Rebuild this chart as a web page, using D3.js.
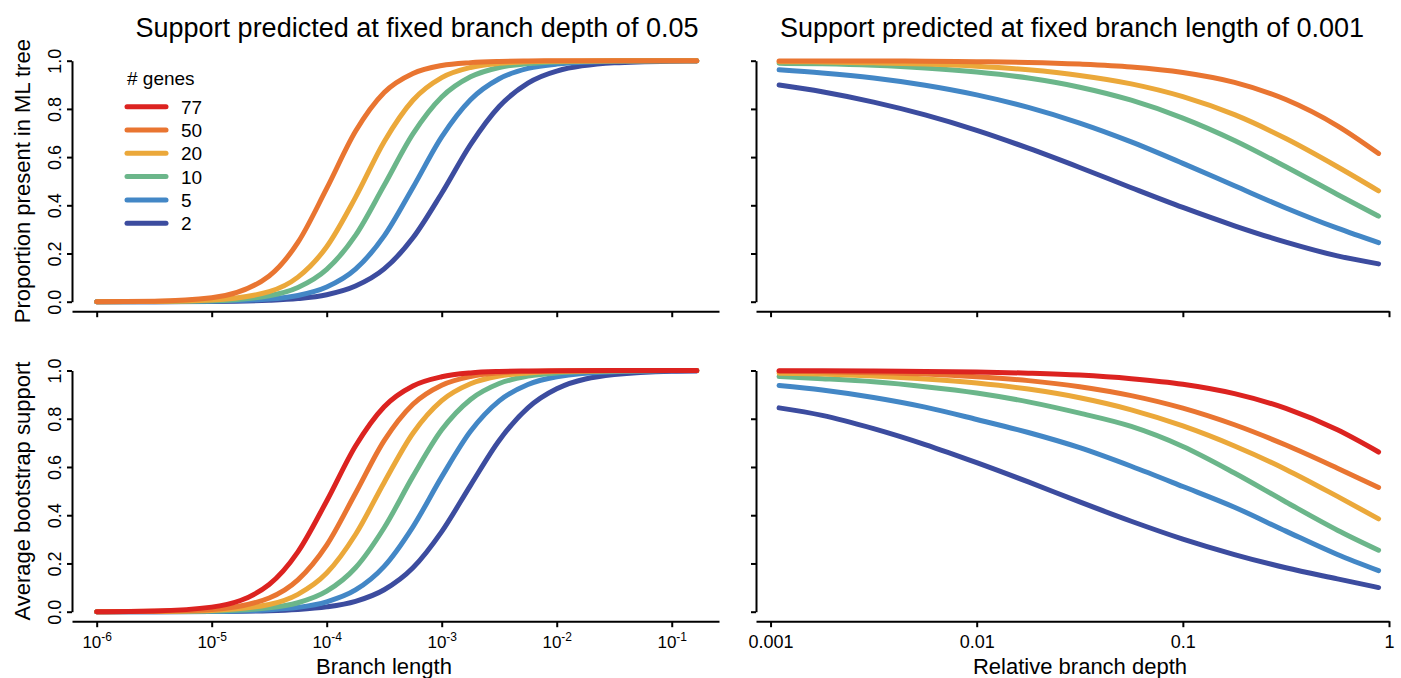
<!DOCTYPE html>
<html>
<head>
<meta charset="utf-8">
<script src="https://cdn.jsdelivr.net/npm/d3@7"></script>
<style>
  body { margin: 0; background: #fff; }
  text { font-family: "Liberation Sans", Arial, Helvetica, sans-serif; fill: #000; }
</style>
</head>
<body>
<svg id="chart" width="1401" height="678"></svg>
<script>
// number of genes and their colours (77 is only drawn in the bootstrap panels)
var genes = [77, 50, 20, 10, 5, 2];
var geneColors = ["#dc2320", "#e97531", "#eba83a", "#6bb68a", "#4387c6", "#3c4c9f"];

// left panels: branch length (log scale), fixed branch depth 0.05
var branchLength = [1e-6, 3.16e-6, 1e-5, 3.16e-5, 5.62e-5, 1e-4, 1.78e-4, 3.16e-4, 5.62e-4,
  1e-3, 1.78e-3, 3.16e-3, 5.62e-3, 1e-2, 3.16e-2, 1e-1, 0.165];

var mlByLength = {
  50: [0.000, 0.002, 0.016, 0.107, 0.246, 0.470, 0.707, 0.868, 0.947, 0.980, 0.992, 0.997, 0.999, 1.0, 1.0, 1.0, 1.0],
  20: [0.000, 0.001, 0.007, 0.042, 0.102, 0.228, 0.433, 0.664, 0.836, 0.930, 0.972, 0.989, 0.996, 0.998, 1.0, 1.0, 1.0],
  10: [0.000, 0.001, 0.004, 0.025, 0.059, 0.134, 0.275, 0.483, 0.696, 0.849, 0.933, 0.972, 0.988, 0.995, 0.999, 1.0, 1.0],
  5:  [0.000, 0.000, 0.002, 0.011, 0.026, 0.061, 0.135, 0.273, 0.474, 0.684, 0.838, 0.925, 0.968, 0.986, 0.998, 1.0, 1.0],
  2:  [0.000, 0.000, 0.001, 0.006, 0.013, 0.029, 0.065, 0.136, 0.265, 0.450, 0.652, 0.810, 0.907, 0.957, 0.991, 0.998, 0.999]
};

var bootByLength = {
  77: [0.000, 0.003, 0.019, 0.113, 0.248, 0.459, 0.687, 0.850, 0.936, 0.974, 0.990, 0.996, 0.998, 0.999, 1.0, 1.0, 1.0],
  50: [0.000, 0.002, 0.009, 0.057, 0.132, 0.276, 0.491, 0.709, 0.860, 0.939, 0.975, 0.990, 0.996, 0.998, 1.0, 1.0, 1.0],
  20: [0.000, 0.001, 0.005, 0.030, 0.072, 0.160, 0.320, 0.536, 0.740, 0.875, 0.945, 0.977, 0.990, 0.996, 0.999, 1.0, 1.0],
  10: [0.000, 0.001, 0.003, 0.016, 0.037, 0.085, 0.182, 0.348, 0.561, 0.754, 0.880, 0.946, 0.977, 0.990, 0.998, 1.0, 1.0],
  5:  [0.000, 0.000, 0.001, 0.008, 0.018, 0.041, 0.090, 0.188, 0.352, 0.559, 0.748, 0.874, 0.942, 0.974, 0.995, 0.999, 1.0],
  2:  [0.000, 0.000, 0.001, 0.004, 0.009, 0.020, 0.043, 0.091, 0.182, 0.332, 0.524, 0.710, 0.845, 0.924, 0.983, 0.997, 0.998]
};

// right panels: relative branch depth (log scale), fixed branch length 0.001
var relDepth = [0.0011, 0.00178, 0.00316, 0.00562, 0.01, 0.0178, 0.0316, 0.0562, 0.1, 0.178, 0.316, 0.562, 0.89];

var mlByDepth = {
  50: [0.999, 0.999, 0.999, 0.998, 0.996, 0.993, 0.986, 0.974, 0.951, 0.910, 0.839, 0.730, 0.615],
  20: [0.996, 0.995, 0.991, 0.986, 0.977, 0.962, 0.939, 0.904, 0.851, 0.776, 0.677, 0.560, 0.460],
  10: [0.989, 0.987, 0.981, 0.970, 0.953, 0.928, 0.890, 0.836, 0.762, 0.669, 0.560, 0.445, 0.355],
  5:  [0.962, 0.949, 0.928, 0.898, 0.858, 0.806, 0.741, 0.663, 0.574, 0.481, 0.389, 0.305, 0.245],
  2:  [0.899, 0.871, 0.828, 0.775, 0.711, 0.637, 0.557, 0.473, 0.391, 0.315, 0.247, 0.190, 0.157]
};

var bootByDepth = {
  77: [0.999, 0.999, 0.998, 0.996, 0.994, 0.989, 0.981, 0.966, 0.943, 0.904, 0.843, 0.754, 0.662],
  50: [0.997, 0.995, 0.991, 0.985, 0.974, 0.958, 0.933, 0.896, 0.844, 0.775, 0.691, 0.595, 0.515],
  20: [0.989, 0.985, 0.977, 0.965, 0.948, 0.923, 0.887, 0.837, 0.770, 0.687, 0.590, 0.478, 0.385],
  10: [0.975, 0.966, 0.953, 0.933, 0.907, 0.870, 0.823, 0.768, 0.685, 0.575, 0.455, 0.338, 0.255],
  5:  [0.938, 0.919, 0.888, 0.848, 0.797, 0.743, 0.680, 0.603, 0.519, 0.433, 0.334, 0.237, 0.170],
  2:  [0.845, 0.814, 0.759, 0.693, 0.618, 0.538, 0.455, 0.375, 0.301, 0.237, 0.182, 0.136, 0.100]
};

// tick values and labels
var lengthTicks = [1e-6, 1e-5, 1e-4, 1e-3, 1e-2, 1e-1];
var lengthTickExp = ["-6", "-5", "-4", "-3", "-2", "-1"];
var depthTicks = [0.001, 0.01, 0.1, 1];
var depthTickLabels = ["0.001", "0.01", "0.1", "1"];
var yTicks = [0, 0.2, 0.4, 0.6, 0.8, 1.0];
var yTickLabels = ["0.0", "0.2", "0.4", "0.6", "0.8", "1.0"];

var svg = d3.select("#chart");

var xLength = d3.scaleLog().domain([6.1e-7, 0.2576]).range([72, 719]);
var xDepth = d3.scaleLog().domain([8.5e-4, 1]).range([756, 1389]);
var yTop = d3.scaleLinear().domain([0, 1]).range([301.7, 60.7]);
var yBottom = d3.scaleLinear().domain([0, 1]).range([611.7, 370.5]);

var panels = [
  { x: xLength, y: yTop, xs: branchLength, data: mlByLength, yLabels: true, xLabels: false, kind: "length" },
  { x: xDepth, y: yTop, xs: relDepth, data: mlByDepth, yLabels: false, xLabels: false, kind: "depth" },
  { x: xLength, y: yBottom, xs: branchLength, data: bootByLength, yLabels: true, xLabels: true, kind: "length" },
  { x: xDepth, y: yBottom, xs: relDepth, data: bootByDepth, yLabels: false, xLabels: true, kind: "depth" }
];

panels.forEach(function (p) {
  // y axis
  var yAxisG = svg.append("g")
    .attr("transform", "translate(" + p.x.range()[0] + ",0)")
    .call(d3.axisLeft(p.y).tickValues(yTicks).tickSize(5).tickSizeOuter(0).tickFormat(""));
  yAxisG.selectAll("path, line").attr("stroke-width", 2);
  if (p.yLabels) {
    yAxisG.selectAll(".tick text")
      .attr("x", null).attr("dy", null)
      .attr("transform", "translate(-11,0) rotate(-90)")
      .attr("text-anchor", "middle")
      .style("font-size", "18px")
      .text(function (d, i) { return yTickLabels[i]; });
  }

  // x axis, a little below the y range
  var xAxisY = p.y.range()[0] + 9.5;
  var ticks = p.kind === "length" ? lengthTicks : depthTicks;
  var xAxisG = svg.append("g")
    .attr("transform", "translate(0," + xAxisY + ")")
    .call(d3.axisBottom(p.x).tickValues(ticks).tickSize(6).tickSizeOuter(0).tickFormat(""));
  xAxisG.selectAll("path, line").attr("stroke-width", 2);
  if (p.xLabels) {
    xAxisG.selectAll(".tick text")
      .attr("y", 27)
      .attr("dy", null)
      .attr("text-anchor", "middle")
      .each(function (d, i) {
        var t = d3.select(this);
        if (p.kind === "length") {
          t.style("font-size", "17px");
          t.append("tspan").text("10");
          t.append("tspan").attr("dy", -7).style("font-size", "12px").text(lengthTickExp[i]);
        } else {
          t.style("font-size", "18px").text(depthTickLabels[i]);
        }
      });
  }

  // curves, drawn so that larger gene counts end up on top
  var line = d3.line()
    .x(function (d) { return p.x(d[0]); })
    .y(function (d) { return p.y(d[1]); })
    .curve(d3.curveMonotoneX);

  genes.slice().reverse().forEach(function (g) {
    var vals = p.data[g];
    if (!vals) return;
    var pts = p.xs.map(function (xv, i) { return [xv, vals[i]]; });
    svg.append("path")
      .attr("d", line(pts))
      .attr("fill", "none")
      .attr("stroke", geneColors[genes.indexOf(g)])
      .attr("stroke-width", 5)
      .attr("stroke-linecap", "round")
      .attr("stroke-linejoin", "round");
  });
});

// titles
svg.append("text").attr("x", 417).attr("y", 37).attr("text-anchor", "middle")
  .style("font-size", "27px").text("Support predicted at fixed branch depth of 0.05");
svg.append("text").attr("x", 1072).attr("y", 37).attr("text-anchor", "middle")
  .style("font-size", "27px").text("Support predicted at fixed branch length of 0.001");

// axis titles
svg.append("text").attr("x", 384).attr("y", 674).attr("text-anchor", "middle")
  .style("font-size", "22px").text("Branch length");
svg.append("text").attr("x", 1080).attr("y", 674).attr("text-anchor", "middle")
  .style("font-size", "22px").text("Relative branch depth");
svg.append("text").attr("transform", "translate(30," + (yTop(0.5)) + ") rotate(-90)")
  .attr("text-anchor", "middle").style("font-size", "22px").text("Proportion present in ML tree");
svg.append("text").attr("transform", "translate(30," + (yBottom(0.5)) + ") rotate(-90)")
  .attr("text-anchor", "middle").style("font-size", "22px").text("Average bootstrap support");

// legend
var legend = svg.append("g").attr("transform", "translate(127,78)");
legend.append("text").attr("x", 0).attr("y", 7).style("font-size", "19px").text("# genes");
genes.forEach(function (g, i) {
  var yy = 28.7 + i * 23.3;
  legend.append("line")
    .attr("x1", 0).attr("x2", 39).attr("y1", yy).attr("y2", yy)
    .attr("stroke", geneColors[i]).attr("stroke-width", 5).attr("stroke-linecap", "round");
  legend.append("text").attr("x", 54).attr("y", yy + 7).style("font-size", "19px").text(g);
});
</script>
</body>
</html>
